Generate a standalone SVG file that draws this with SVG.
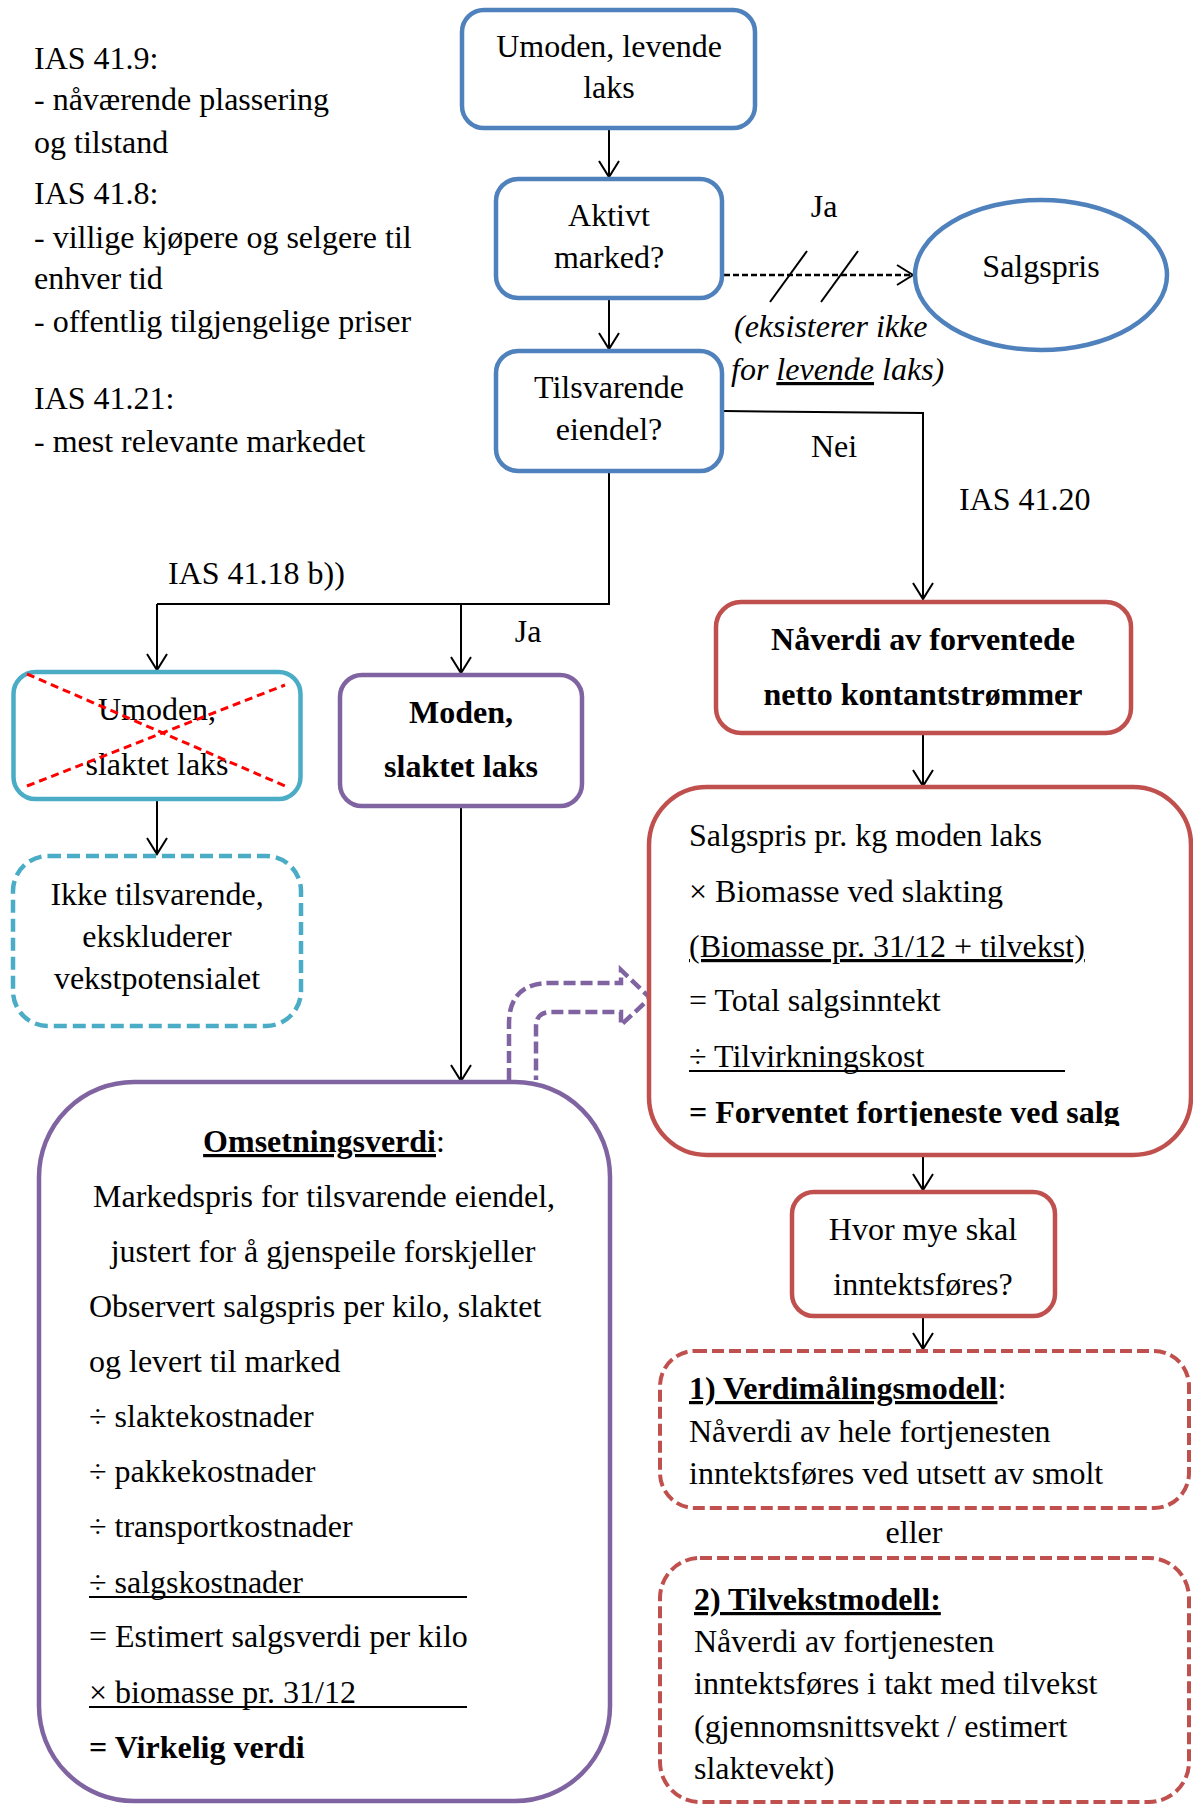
<svg xmlns="http://www.w3.org/2000/svg" width="1193" height="1805" viewBox="0 0 1193 1805">
<style>
text { font-family: "Liberation Serif", "Times New Roman", serif; font-size: 32px; fill: #000; }
.c { text-anchor: middle; }
.b { font-weight: bold; }
.i { font-style: italic; }
.u { text-decoration: underline; }
.blue { fill: #fff; stroke: #4F81BD; stroke-width: 4.5; }
.red { fill: #fff; stroke: #C0504D; stroke-width: 4.5; }
.redd { fill: #fff; stroke: #C0504D; stroke-width: 4; stroke-dasharray: 12 5; }
.purple { fill: #fff; stroke: #8064A2; stroke-width: 4.5; }
.purpled { fill: none; stroke: #8064A2; stroke-width: 4.5; stroke-dasharray: 12 5; }
.cyan { fill: #fff; stroke: #4BACC6; stroke-width: 4.5; }
.cyand { fill: #fff; stroke: #4BACC6; stroke-width: 4.5; stroke-dasharray: 13 6; }
.conn { fill: none; stroke: #000; stroke-width: 2; }
.arr { marker-end: url(#ah); }
.dash { stroke-dasharray: 6 3; stroke-width: 2.5; }
.xline { stroke: #FF0000; stroke-width: 3; stroke-dasharray: 8 5; fill: none; }
.ul { stroke: #000; stroke-width: 2; }
</style>
<defs>
<marker id="ah" markerUnits="userSpaceOnUse" markerWidth="24" markerHeight="24" refX="0" refY="0" orient="auto" overflow="visible">
<path d="M-16,-10 L0,0 L-16,10" fill="none" stroke="#000" stroke-width="2"/>
</marker>
<clipPath id="clipSalg"><rect x="640" y="1080" width="553" height="46"/></clipPath>
</defs>

<g id="notes">
<text x="34" y="69">IAS 41.9:</text>
<text x="34" y="110">- nåværende plassering</text>
<text x="34" y="153">og tilstand</text>
<text x="34" y="204">IAS 41.8:</text>
<text x="34" y="248">- villige kjøpere og selgere til</text>
<text x="34" y="289">enhver tid</text>
<text x="34" y="332">- offentlig tilgjengelige priser</text>
<text x="34" y="409">IAS 41.21:</text>
<text x="34" y="452">- mest relevante markedet</text>
</g>

<g id="connectors">
<line class="conn arr" x1="609" y1="130" x2="609" y2="177"/>
<line class="conn arr" x1="609" y1="300" x2="609" y2="349"/>
<line class="conn arr dash" x1="724" y1="275" x2="913" y2="275"/>
<line class="conn" x1="770" y1="302" x2="807" y2="251"/>
<line class="conn" x1="821" y1="302" x2="858" y2="251"/>
<polyline class="conn arr" points="724,411 923,413 923,599"/>
<polyline class="conn" points="609,473 609,604 157,604"/>
<line class="conn arr" x1="157" y1="604" x2="157" y2="670"/>
<line class="conn arr" x1="461" y1="604" x2="461" y2="673"/>
<line class="conn arr" x1="157" y1="801" x2="157" y2="854"/>
<line class="conn arr" x1="461" y1="808" x2="461" y2="1081"/>
<line class="conn arr" x1="923" y1="735" x2="923" y2="786"/>
<line class="conn arr" x1="923" y1="1157" x2="923" y2="1190"/>
<line class="conn arr" x1="923" y1="1318" x2="923" y2="1349"/>
<path class="purpled" d="M509,1080 L509,1024 Q509,983 550,983 L621,983 L621,970 L650,998 L621,1025 L621,1012 L551,1012 Q536,1012 536,1027 L536,1080"/>
</g>

<g id="labels">
<text class="c" x="824" y="217">Ja</text>
<text class="i" x="734" y="337">(eksisterer ikke</text>
<text class="i" x="731" y="380">for <tspan class="u">levende</tspan> laks)</text>
<text class="c" x="834" y="457">Nei</text>
<text x="959" y="510">IAS 41.20</text>
<text x="168" y="584">IAS 41.18 b))</text>
<text class="c" x="528" y="642">Ja</text>
</g>

<g id="n-umoden-levende">
<rect class="blue" x="462" y="10" width="293" height="118" rx="22"/>
<text class="c" x="609" y="57">Umoden, levende</text>
<text class="c" x="609" y="98">laks</text>
</g>

<g id="n-aktivt">
<rect class="blue" x="496" y="179" width="226" height="119" rx="22"/>
<text class="c" x="609" y="226">Aktivt</text>
<text class="c" x="609" y="268">marked?</text>
</g>

<g id="n-salgspris">
<ellipse class="blue" cx="1041" cy="275" rx="126" ry="75"/>
<text class="c" x="1041" y="277">Salgspris</text>
</g>

<g id="n-tilsvarende">
<rect class="blue" x="496" y="351" width="226" height="120" rx="22"/>
<text class="c" x="609" y="398">Tilsvarende</text>
<text class="c" x="609" y="440">eiendel?</text>
</g>

<g id="n-umoden-slaktet">
<rect class="cyan" x="13.5" y="672" width="287" height="127" rx="22"/>
<text class="c" x="157" y="720">Umoden,</text>
<text class="c" x="157" y="775">slaktet laks</text>
<line class="xline" x1="27" y1="674" x2="285" y2="786"/>
<line class="xline" x1="27" y1="786" x2="285" y2="685"/>
</g>

<g id="n-ikke-tilsvarende">
<rect class="cyand" x="13" y="856" width="288" height="170" rx="35"/>
<text class="c" x="157" y="905">Ikke tilsvarende,</text>
<text class="c" x="157" y="947">ekskluderer</text>
<text class="c" x="157" y="989">vekstpotensialet</text>
</g>

<g id="n-moden">
<rect class="purple" x="340" y="675" width="242" height="131" rx="22"/>
<text class="c b" x="461" y="723">Moden,</text>
<text class="c b" x="461" y="777">slaktet laks</text>
</g>

<g id="n-naverdi">
<rect class="red" x="716" y="602" width="415" height="131" rx="25"/>
<text class="c b" x="923" y="650">Nåverdi av forventede</text>
<text class="c b" x="923" y="705">netto kontantstrømmer</text>
</g>

<g id="n-beregning">
<rect class="red" x="649" y="787" width="542" height="368" rx="58"/>
<text x="689" y="846">Salgspris pr. kg moden laks</text>
<text x="689" y="902">× Biomasse ved slakting</text>
<text class="u" x="689" y="957">(Biomasse pr. 31/12 + tilvekst)</text>
<text x="689" y="1011">= Total salgsinntekt</text>
<text x="689" y="1067">÷ Tilvirkningskost</text>
<line class="ul" x1="689" y1="1071" x2="1065" y2="1071"/>
<text class="b" x="689" y="1123" clip-path="url(#clipSalg)">= Forventet fortjeneste ved salg</text>
</g>

<g id="n-hvor-mye">
<rect class="red" x="792" y="1192" width="263" height="124" rx="22"/>
<text class="c" x="923" y="1240">Hvor mye skal</text>
<text class="c" x="923" y="1295">inntektsføres?</text>
</g>

<g id="n-verdimaling">
<rect class="redd" x="660" y="1351" width="529" height="157" rx="35"/>
<text x="689" y="1399"><tspan class="b u">1) Verdimålingsmodell</tspan>:</text>
<text x="689" y="1442">Nåverdi av hele fortjenesten</text>
<text x="689" y="1484">inntektsføres ved utsett av smolt</text>
</g>

<g id="eller">
<text class="c" x="914" y="1543">eller</text>
</g>

<g id="n-tilvekst">
<rect class="redd" x="660" y="1558" width="529" height="244" rx="40"/>
<text class="b u" x="694" y="1610">2) Tilvekstmodell:</text>
<text x="694" y="1652">Nåverdi av fortjenesten</text>
<text x="694" y="1694">inntektsføres i takt med tilvekst</text>
<text x="694" y="1737">(gjennomsnittsvekt / estimert</text>
<text x="694" y="1779">slaktevekt)</text>
</g>

<g id="n-omsetningsverdi">
<rect class="purple" x="39" y="1082" width="571" height="719" rx="95"/>
<text class="c" x="324" y="1152"><tspan class="b u">Omsetningsverdi</tspan>:</text>
<text class="c" x="324" y="1207">Markedspris for tilsvarende eiendel,</text>
<text class="c" x="323" y="1262">justert for å gjenspeile forskjeller</text>
<text x="89" y="1317">Observert salgspris per kilo, slaktet</text>
<text x="89" y="1372">og levert til marked</text>
<text x="89" y="1427">÷ slaktekostnader</text>
<text x="89" y="1482">÷ pakkekostnader</text>
<text x="89" y="1537">÷ transportkostnader</text>
<text x="89" y="1593">÷ salgskostnader</text>
<line class="ul" x1="89" y1="1597" x2="467" y2="1597"/>
<text x="89" y="1647">= Estimert salgsverdi per kilo</text>
<text x="89" y="1703">× biomasse pr. 31/12</text>
<line class="ul" x1="89" y1="1707" x2="467" y2="1707"/>
<text class="b" x="89" y="1758">= Virkelig verdi</text>
</g>
</svg>
